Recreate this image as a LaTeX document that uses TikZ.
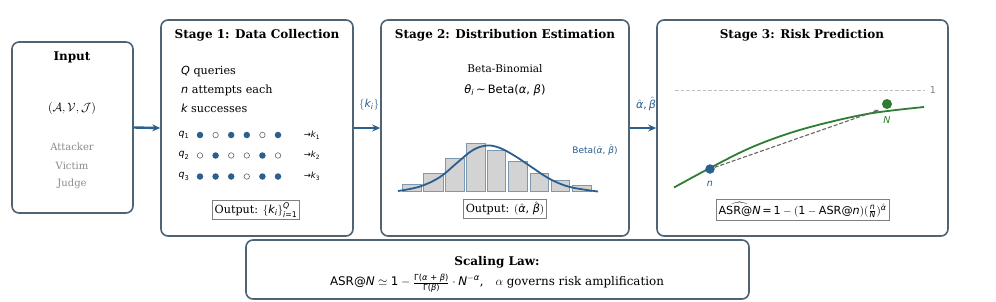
\documentclass[tikz,border=0pt]{standalone}
\usepackage{fontspec}
\usepackage{amsmath}
\setmainfont{DejaVu Serif}
\newfontfamily\mf{DejaVu Sans}
\usetikzlibrary{arrows.meta}
\definecolor{boxc}{HTML}{4F6373}
\definecolor{bl}{HTML}{2C5F8D}
\definecolor{gr}{HTML}{2E7D32}
\definecolor{barf}{HTML}{D3D3D3}
\definecolor{bare}{HTML}{7D98B3}
\definecolor{gt}{HTML}{8C8C8C}
\newcommand{\vi}[1]{\text{\mf\itshape #1}}
\newcommand{\vr}[1]{\text{\mf #1}}
\begin{document}
\begin{tikzpicture}[x=1pt,y=-1pt,
  stagebox/.style={draw=boxc, line width=1.6pt, rounded corners=7pt, fill=white, inner sep=0pt},
  ttl/.style={font=\fontsize{12}{14}\selectfont\bfseries, inner sep=0pt},
  body/.style={font=\fontsize{11.2}{13}\selectfont, inner sep=0pt},
  outbox/.style={draw=gray, line width=0.8pt, fill=white, inner sep=2.5pt, font=\fontsize{11.2}{13}\selectfont},
  flow/.style={draw=bl, line width=2.4pt, -{Stealth[length=8pt,width=7pt]}},
  fdot/.style={circle, fill=bl, inner sep=0pt, minimum size=6.5pt},
  odot/.style={circle, draw=gray!80!black, line width=0.6pt, fill=white, inner sep=0pt, minimum size=5.5pt},
  small/.style={font=\fontsize{9.5}{11}\selectfont\mf, inner sep=0pt},
]
\useasboundingbox (0,0) rectangle (996,301);

% boxes
\node[stagebox, minimum width=121pt, minimum height=171pt] (inp) at (72.5,127.5) {};
\node[stagebox, minimum width=192pt, minimum height=216pt] (s1) at (257,128) {};
\node[stagebox, minimum width=248pt, minimum height=216pt] (s2) at (505,128) {};
\node[stagebox, minimum width=291pt, minimum height=216pt] (s3) at (802.5,128) {};
\node[stagebox, minimum width=503pt, minimum height=59pt] (sl) at (497.5,269.5) {};

% flows
\draw[flow] (inp.east) -- (s1.west);
\draw[flow] (s1.east) -- (s2.west);
\draw[flow] (s2.east) -- (s3.west);
\node[font=\fontsize{11}{13}\selectfont\color{bl}, inner sep=0pt] (lk) at (369,105) {$\{\vi{k}_{\vi{i}}\}$};
\node[font=\fontsize{11}{13}\selectfont\color{bl}, inner sep=0pt] (lab) at (646,104) {$\hat{\vi{α}}\vr{,}\,\hat{\vi{β}}$};

% Input
\node[ttl] (tin) at (72,57) {Input};
\node[body, font=\fontsize{12.5}{14}\selectfont] (avj) at (72,108) {$(\mathcal{A},\mathcal{V},\mathcal{J})$};
\node[body, text=gt, font=\fontsize{10}{12}\selectfont] (att) at (72,147) {Attacker};
\node[body, text=gt, font=\fontsize{10}{12}\selectfont] (vic) at (72,165.5) {Victim};
\node[body, text=gt, font=\fontsize{10}{12}\selectfont] (jud) at (72,184) {Judge};

% Stage 1
\node[ttl] (t1) at (257,35) {Stage 1: Data Collection};
\node[body, anchor=west] (lq) at (181,72) {$\vi{Q}$ queries};
\node[body, anchor=west] (ln) at (181,90) {$\vi{n}$ attempts each};
\node[body, anchor=west] (lks) at (181,108) {$\vi{k}$ successes};
\foreach \r/\y/\pat in {1/135/{1,0,1,1,0,1}, 2/155.5/{0,1,0,0,1,0}, 3/176.5/{1,1,1,0,1,1}} {
  \node[small] (q\r) at (184,\y) {$\vi{q}_{\vr{\r}}$};
  \foreach \v [count=\c] in \pat {
    \pgfmathsetmacro{\xx}{200+(\c-1)*15.6}
    \ifnum\v=1
      \node[fdot] (d\r\c) at (\xx,\y) {};
    \else
      \node[odot] (d\r\c) at (\xx,\y) {};
    \fi
  }
  \node[small, font=\fontsize{8.5}{10}\selectfont\mf] (k\r) at (312,\y) {→$\vi{k}_{\vr{\r}}$};
}
\node[outbox] (o1) at (256,210) {Output: $\{\vi{k}_{\vi{i}}\}^{\vi{Q}}_{\vi{i}\vr{=}\vr{1}}$};

% Stage 2
\node[ttl] (t2) at (505,35) {Stage 2: Distribution Estimation};
\node[body, font=\fontsize{10.5}{12}\selectfont] (bb) at (505,69) {Beta-Binomial};
\node[body, font=\fontsize{11.5}{13}\selectfont] (th) at (505,90) {$\vi{θ}_{\vi{i}}\,\vr{\char"223C}\,\vr{Beta(}\vi{α}\vr{, }\vi{β}\vr{)}$};
\foreach \xa/\xb/\yt in {402/421/184, 423/443/173, 445/464/158, 466/485/143, 487/505/150, 508/527/161, 530/548/173, 551/569/180, 572/591/185} {
  \draw[fill=barf, draw=bare, line width=0.8pt] (\xa,191.5) rectangle (\xb,\yt);
}
\draw[bl, line width=1.8pt] plot[smooth, tension=0.6] coordinates {(398,191) (420,186.5) (440,177) (458,162) (473,150) (487,145.5) (500,148) (515,156) (530,166) (550,179) (570,187) (598,191.5)};
\node[small, text=bl, font=\fontsize{9}{10}\selectfont\mf] (bl2) at (595,150) {$\vr{Beta(}\hat{\vi{α}}\vr{, }\hat{\vi{β}}\vr{)}$};
\node[outbox] (o2) at (505,208.5) {Output: $(\hat{\vi{α}}\vr{, }\hat{\vi{β}})$};

% Stage 3
\node[ttl] (t3) at (802,35) {Stage 3: Risk Prediction};
\coordinate (dl0) at (675,90.5);
\coordinate (dl1) at (925,90.5);
\draw[gray!50, line width=0.9pt, dash pattern=on 3.5pt off 2pt] (dl0) -- (dl1);
\node[small, text=gray] (one) at (933,90) {1};
\draw[gr, line width=1.8pt] plot[smooth, tension=0.6] coordinates {(674,187.5) (710,168) (750,148) (790,133) (830,122) (873,113) (924,107)};
\node[circle, fill=bl, inner sep=0pt, minimum size=9.5pt] (pn) at (710,169) {};
\node[circle, fill=gr, inner sep=0pt, minimum size=10pt] (pN) at (887,104) {};
\coordinate (tip) at (879,110);
\draw[gray!80!black, dash pattern=on 4pt off 2pt, line width=1.1pt, -{Stealth[length=5pt,width=4pt]}] (pn) -- (tip);
\node[small, text=bl, font=\fontsize{9.5}{11}\selectfont\mf\itshape] (ln3) at (710,184) {n};
\node[small, text=gr, font=\fontsize{9.5}{11}\selectfont\mf\itshape] (lN3) at (887,120) {N};
\node[outbox] (o3) at (802.5,210) {$\widehat{\vr{ASR@}\vi{N}}\,\vr{=}\,\vr{1}-(\vr{1}-\vr{ASR@}\vi{n})(\tfrac{\vi{n}}{\vi{N}})^{\hat{\vi{α}}}$};

% Scaling law
\node[ttl] (tsl) at (497,262) {Scaling Law:};
\node[body, font=\fontsize{11.9}{14}\selectfont] (fsl) at (497,283) {$\vr{ASR@}\vi{N}\simeq\vr{1}-\frac{\vr{Γ(}\vi{α}\vr{ + }\vi{β}\vr{)}}{\vr{Γ(}\vi{β}\vr{)}}\cdot\vi{N}^{-\vi{α}}$,\quad $\alpha$ governs risk amplification};
\end{tikzpicture}
\end{document}
